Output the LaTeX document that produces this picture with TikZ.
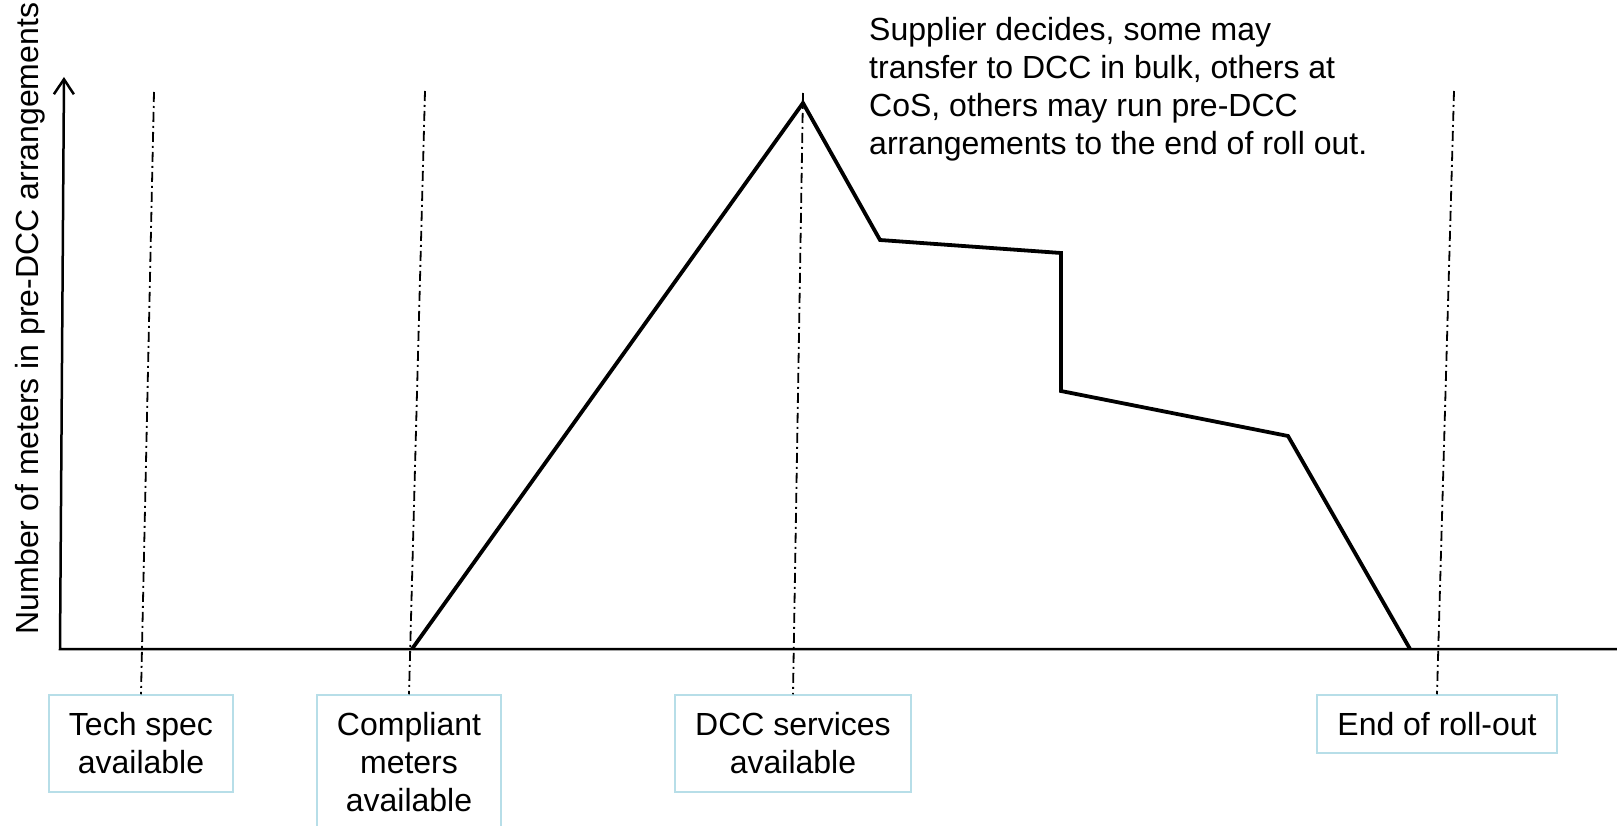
\documentclass[tikz,border=0pt]{standalone}
\usepackage{fontspec}
\setmainfont{Liberation Sans}
\usepackage{color}
\usetikzlibrary{arrows.meta}
\definecolor{boxblue}{RGB}{183,222,232}

\begin{document}
\begin{tikzpicture}
[x=1pt,y=-1pt,
 txt/.style={font=\fontsize{32}{38}\selectfont},
 event/.style={txt,draw=boxblue,line width=1.5pt,align=center,inner sep=0pt},
 guide/.style={line width=1.8pt,dash pattern=on 10pt off 4pt on 2pt off 4pt},
 axis/.style={line width=2.5pt},
 trend/.style={line width=3.8pt,line join=miter}]
\useasboundingbox (0,0) rectangle (1617,826);
\node[event,minimum width=184,minimum height=97] (spec) at (141,743.5) {Tech spec\\available};
\node[event,minimum width=184,minimum height=135] (meters) at (409,762.5) {Compliant\\meters\\available};
\node[event,minimum width=236,minimum height=97] (dcc) at (793,743.5) {DCC services\\available};
\node[event,minimum width=240,minimum height=58] (rollout) at (1437,724) {End of roll-out};
\coordinate (specT) at (154,92);
\coordinate (metersT) at (425,91);
\coordinate (dccT) at (803,93);
\coordinate (rolloutT) at (1454,91);
\foreach \n in {spec,meters,dcc,rollout} \draw[guide] (\n T) -- (\n.north);
\draw[axis,{Straight Barb[length=15pt,width=20pt]}-] (64,77) -- (60,649) -- (1617,649);
\draw[trend] (412,649) -- (803,103) -- (880,240) -- (1061,253) -- (1061,391) -- (1288,436) -- (1410,649);
\node[txt,rotate=90,anchor=base] (ylabel) at (38,318.5) {Number of meters in pre-DCC arrangements};
\node[txt,anchor=north west,align=left,inner sep=0pt] (note) at (869,17) {Supplier decides, some may\\transfer to DCC in bulk, others at\\CoS, others may run pre-DCC\\arrangements to the end of roll out.};
\end{tikzpicture}
\end{document}
